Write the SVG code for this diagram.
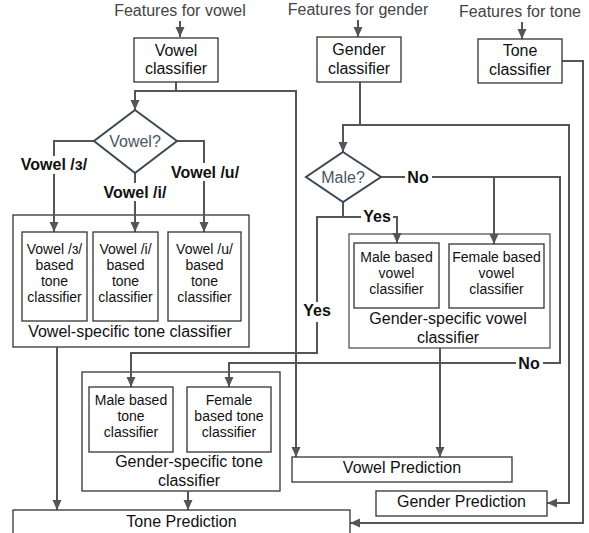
<svg xmlns="http://www.w3.org/2000/svg" width="589" height="533" viewBox="0 0 589 533">
<defs>
<marker id="ah" markerUnits="userSpaceOnUse" markerWidth="10" markerHeight="10" viewBox="0 0 10 10" refX="10" refY="5" orient="auto">
<path d="M0,0.5 L10,5 L0,9.5 Z" fill="#555"/>
</marker>
<style>
text{font-family:"Liberation Sans",Arial,sans-serif;}
.t{font-size:16px;fill:#111;text-anchor:middle;}
.s{font-size:14px;fill:#111;text-anchor:middle;}
.h{font-size:16px;fill:#444;text-anchor:middle;}
.b{font-size:16px;font-weight:bold;fill:#111;text-anchor:middle;}
.q{font-size:16px;fill:#4a5560;text-anchor:middle;}
.box{fill:#fff;stroke:#333;stroke-width:1.3;}
.grp{fill:none;stroke:#333;stroke-width:1.3;}
.dia{fill:#fff;stroke:#3d4852;stroke-width:2;}
.c{fill:none;stroke:#555;stroke-width:2;}
.bg{fill:#fff;}
</style>
</defs>
<rect width="589" height="533" fill="#fff"/>

<g id="titles">
<text class="h" x="180" y="16">Features for vowel</text>
<text class="h" x="358" y="15">Features for gender</text>
<text class="h" x="520" y="17">Features for tone</text>
</g>

<g id="vowel-specific-tone-classifier">
<rect class="grp" x="13" y="215" width="236" height="132"/>
<text class="t" x="130" y="337">Vowel-specific tone classifier</text>
</g>
<g id="gender-specific-vowel-classifier">
<rect class="grp" x="349" y="234" width="201" height="114" style="stroke:#555"/>
<text class="t" x="448" y="324">Gender-specific vowel</text>
<text class="t" x="448" y="343">classifier</text>
</g>
<g id="gender-specific-tone-classifier">
<rect class="grp" x="82" y="372" width="198" height="119"/>
<text class="t" x="189" y="467">Gender-specific tone</text>
<text class="t" x="189" y="486">classifier</text>
</g>

<g id="connectors">
<path class="c" marker-end="url(#ah)" d="M180 21 V37"/>
<path class="c" marker-end="url(#ah)" d="M358 20 V37"/>
<path class="c" marker-end="url(#ah)" d="M522 22 V39"/>
<path class="c" d="M176 82 V91"/>
<path class="c" marker-end="url(#ah)" d="M176 91 H135 V110"/>
<path class="c" marker-end="url(#ah)" d="M176 91 H296 V457"/>
<path class="c" marker-end="url(#ah)" d="M94 141 H54 V232"/>
<path class="c" marker-end="url(#ah)" d="M135 173 V232"/>
<path class="c" marker-end="url(#ah)" d="M177 141 H204 V232"/>
<path class="c" marker-end="url(#ah)" d="M57 347 V510"/>
<path class="c" d="M360 82 V125"/>
<path class="c" marker-end="url(#ah)" d="M360 125 H343 V152"/>
<path class="c" marker-end="url(#ah)" d="M360 125 H569 V503 H547"/>
<path class="c" marker-end="url(#ah)" d="M381 177 H560 V363 H229 V387"/>
<path class="c" marker-end="url(#ah)" d="M494 177 V244"/>
<path class="c" marker-end="url(#ah)" d="M343 202 V217 H397 V243"/>
<path class="c" marker-end="url(#ah)" d="M343 217 H317 V353 H131 V387"/>
<path class="c" marker-end="url(#ah)" d="M440 348 V457"/>
<path class="c" marker-end="url(#ah)" d="M188 491 V510"/>
<path class="c" marker-end="url(#ah)" d="M562 61 H583 V523 H350"/>
</g>

<g id="labels">
<rect class="bg" x="18" y="156" width="72" height="18"/>
<text class="b" x="54" y="170">Vowel /ɜ/</text>
<rect class="bg" x="100" y="183" width="72" height="18"/>
<text class="b" x="135" y="198">Vowel /i/</text>
<rect class="bg" x="168" y="163" width="74" height="18"/>
<text class="b" x="205" y="178">Vowel /u/</text>
<rect class="bg" x="405" y="168" width="27" height="18"/>
<text class="b" x="418" y="183">No</text>
<rect class="bg" x="516" y="354" width="27" height="18"/>
<text class="b" x="529" y="369">No</text>
<rect class="bg" x="361" y="207" width="32" height="17"/>
<text class="b" x="377" y="222">Yes</text>
<rect class="bg" x="301" y="302" width="32" height="20"/>
<text class="b" x="317" y="316">Yes</text>
</g>

<g id="vowel-classifier">
<rect class="box" x="134" y="38" width="84" height="44"/>
<text class="t" x="176" y="56">Vowel</text>
<text class="t" x="176" y="74">classifier</text>
</g>

<g id="gender-classifier">
<rect class="box" x="317" y="37" width="84" height="45"/>
<text class="t" x="359" y="55">Gender</text>
<text class="t" x="359" y="74">classifier</text>
</g>

<g id="tone-classifier">
<rect class="box" x="478" y="39" width="84" height="44"/>
<text class="t" x="520" y="56">Tone</text>
<text class="t" x="520" y="75">classifier</text>
</g>

<g id="vowel-decision">
<polygon class="dia" points="135,110 177,141 135,173 94,141"/>
<text class="q" x="135" y="147">Vowel?</text>
</g>

<g id="male-decision">
<polygon class="dia" points="343,152 381,177 343,202 306,177"/>
<text class="q" x="343" y="183">Male?</text>
</g>

<g id="vowel-e-tone">
<rect class="box" x="22" y="232" width="65" height="89"/>
<text class="s" x="54.5" y="254">Vowel /ɜ/</text>
<text class="s" x="54.5" y="270">based</text>
<text class="s" x="54.5" y="286">tone</text>
<text class="s" x="54.5" y="302">classifier</text>
</g>
<g id="vowel-i-tone">
<rect class="box" x="93" y="232" width="65" height="89"/>
<text class="s" x="125.5" y="254">Vowel /i/</text>
<text class="s" x="125.5" y="270">based</text>
<text class="s" x="125.5" y="286">tone</text>
<text class="s" x="125.5" y="302">classifier</text>
</g>
<g id="vowel-u-tone">
<rect class="box" x="168" y="232" width="73" height="89"/>
<text class="s" x="204.5" y="254">Vowel /u/</text>
<text class="s" x="204.5" y="270">based</text>
<text class="s" x="204.5" y="286">tone</text>
<text class="s" x="204.5" y="302">classifier</text>
</g>

<g id="male-vowel">
<rect class="box" x="354" y="243" width="85" height="65"/>
<text class="s" x="396.5" y="262">Male based</text>
<text class="s" x="396.5" y="278">vowel</text>
<text class="s" x="396.5" y="294">classifier</text>
</g>
<g id="female-vowel">
<rect class="box" x="449" y="244" width="95" height="64"/>
<text class="s" x="496.5" y="262">Female based</text>
<text class="s" x="496.5" y="278">vowel</text>
<text class="s" x="496.5" y="294">classifier</text>
</g>

<g id="male-tone">
<rect class="box" x="89" y="387" width="84" height="65"/>
<text class="s" x="131" y="405">Male based</text>
<text class="s" x="131" y="421">tone</text>
<text class="s" x="131" y="437">classifier</text>
</g>
<g id="female-tone">
<rect class="box" x="187" y="387" width="84" height="65"/>
<text class="s" x="229" y="405">Female</text>
<text class="s" x="229" y="421">based tone</text>
<text class="s" x="229" y="437">classifier</text>
</g>

<g id="vowel-prediction">
<rect class="box" x="292" y="457" width="220" height="25"/>
<text class="t" x="402" y="473">Vowel Prediction</text>
</g>
<g id="gender-prediction">
<rect class="box" x="376" y="491" width="171" height="25"/>
<text class="t" x="461.5" y="507">Gender Prediction</text>
</g>
<g id="tone-prediction">
<rect class="box" x="13" y="510" width="337" height="30"/>
<text class="t" x="181.5" y="527">Tone Prediction</text>
</g>
</svg>
